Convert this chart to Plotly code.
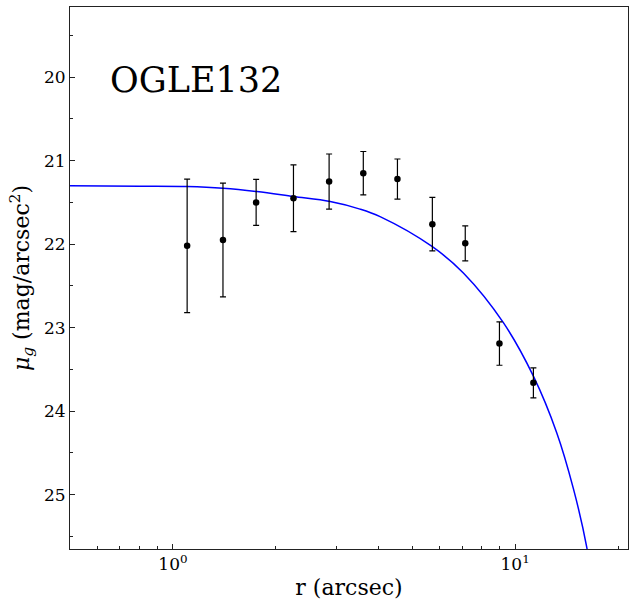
import plotly.graph_objects as go

# measured surface brightness profile
r_data = [1.10, 1.40, 1.75, 2.25, 2.86, 3.60, 4.53, 5.73, 7.15, 9.00, 11.31]
mu_data = [22.02, 21.95, 21.50, 21.45, 21.25, 21.15, 21.22, 21.76, 21.99, 23.19, 23.66]
mu_err = [0.80, 0.68, 0.275, 0.40, 0.33, 0.26, 0.24, 0.32, 0.21, 0.26, 0.18]

# fitted profile
r_fit = [0.5, 0.8, 1.1, 1.4, 1.76, 2.25, 2.88, 3.52, 4.03, 5.73, 7.06, 9.24, 11.31, 13.24, 14.81, 16.2, 17.0]
mu_fit = [21.30, 21.305, 21.31, 21.33, 21.37, 21.43, 21.49, 21.58, 21.67, 22.03, 22.345, 22.94, 23.58, 24.26, 24.93, 25.63, 26.2]

major_x = [1, 10]
major_x_text = ["10<sup>0</sup>", "10<sup>1</sup>"]
minor_x = [0.6, 0.7, 0.8, 0.9, 2, 3, 4, 5, 6, 7, 8, 9, 20]

font = "DejaVu Serif"

fig = go.Figure()
fig.add_trace(go.Scatter(
    x=r_fit, y=mu_fit, mode="lines",
    line=dict(color="#0000ff", width=1.5, shape="spline"),
    showlegend=False, hoverinfo="skip"))
fig.add_trace(go.Scatter(
    x=r_data, y=mu_data, mode="markers",
    marker=dict(color="black", size=6.5),
    error_y=dict(type="data", array=mu_err, color="black", thickness=1.2, width=3),
    showlegend=False))

fig.add_annotation(text="OGLE132", xref="paper", yref="paper", x=0.068, y=0.865,
                   xanchor="left", yanchor="middle", showarrow=False,
                   font=dict(family=font, size=35, color="black"))

fig.update_layout(
    width=634, height=608,
    margin=dict(l=70, r=6, t=7, b=59),
    plot_bgcolor="white", paper_bgcolor="white",
    font=dict(family=font, size=17, color="black"),
)
fig.update_xaxes(
    type="log", range=[-0.301, 1.330], automargin=False,
    tickvals=major_x, ticktext=major_x_text,
    ticks="inside", ticklen=5, tickcolor="#222",
    minor=dict(tickvals=minor_x, ticks="inside", ticklen=3, tickcolor="#222"),
    showgrid=False, zeroline=False,
    showline=True, linecolor="#222", linewidth=1, mirror=True,
    title=dict(text="r (arcsec)", font=dict(size=22), standoff=6),
)
fig.update_yaxes(
    range=[25.65, 19.16], dtick=1, tick0=20, automargin=False,
    ticks="inside", ticklen=5, tickcolor="#222",
    minor=dict(dtick=0.5, ticks="inside", ticklen=3, tickcolor="#222"),
    showgrid=False, zeroline=False,
    showline=True, linecolor="#222", linewidth=1, mirror=True,
    title=dict(text="<i>μ<sub>g</sub></i> (mag/arcsec<sup>2</sup>)", font=dict(size=22), standoff=8),
)

# drop the browser's default page margin so the figure sits at the window corner
fig.write_html("out.html", config={"displayModeBar": False},
               post_script="document.body.style.margin='0px';")
